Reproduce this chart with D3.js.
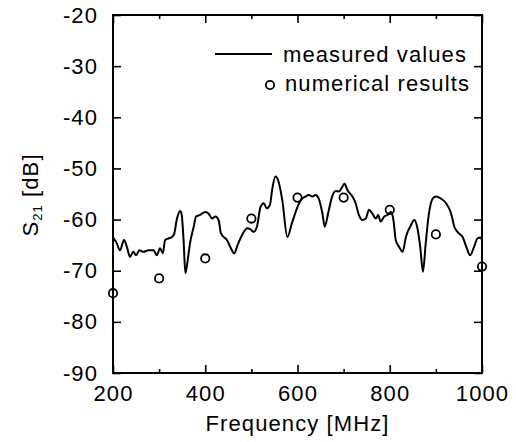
<!DOCTYPE html>
<html>
<head>
<meta charset="utf-8">
<script src="https://cdn.jsdelivr.net/npm/d3@7"></script>
<style>
  body { margin: 0; background: #fff; }
  svg text { font-family: "Liberation Sans", Arial, Helvetica, sans-serif; fill: #000; }
</style>
</head>
<body>
<div id="chart"></div>
<script>
// measured S21 trace
const measFreq = [200, 208, 215, 224, 230, 237, 244, 250, 257, 266, 277, 288, 295, 302, 308, 313, 320, 328, 333, 338,
  346, 349, 353, 357, 362, 367, 375, 380, 389, 400, 407, 415, 422, 429, 434, 440, 447, 454, 463, 470,
  480, 491, 498, 505, 512, 520, 527, 533, 540, 545, 552, 559, 567, 578, 588, 598, 607, 617, 625, 632,
  639, 646, 654, 659, 667, 675, 683, 690, 697, 702, 708, 719, 726, 733, 741, 748, 755, 762, 770, 775,
  780, 788, 795, 802, 808, 813, 820, 828, 835, 846, 853, 860, 866, 872, 878, 885, 893, 900, 911, 922,
  933, 940, 950, 958, 967, 974, 983, 990, 997, 1000];
const measS21 = [-63.5, -64.6, -66.0, -64.0, -65.3, -67.3, -66.3, -67.0, -66.0, -66.3, -66.0, -66.0, -67.0, -65.6, -66.6, -64.0, -63.7, -63.4, -62.7, -60.1,
  -58.3, -59.1, -64.0, -70.5, -67.9, -64.6, -61.4, -59.4, -59.1, -58.5, -58.8, -59.8, -59.4, -60.1, -62.7, -63.4, -64.0, -65.3, -66.6, -65.0,
  -63.0, -61.7, -61.9, -62.4, -61.4, -57.5, -56.8, -57.8, -57.2, -54.2, -51.6, -52.6, -56.2, -63.4, -60.7, -58.0, -56.2, -55.5, -55.2, -55.5,
  -55.2, -55.9, -58.8, -61.4, -58.5, -55.5, -54.4, -54.5, -53.6, -53.0, -54.2, -55.5, -56.8, -59.1, -60.1, -59.8, -58.1, -58.8, -59.8, -59.1,
  -60.4, -59.4, -59.1, -58.5, -60.1, -64.0, -65.3, -66.3, -63.4, -61.1, -60.1, -61.7, -65.3, -70.2, -64.6, -58.8, -55.9, -55.5, -55.9, -56.8,
  -58.8, -61.4, -62.7, -63.4, -65.6, -67.0, -65.3, -63.7, -63.5, -64.0];

// numerical results (circles)
const numFreq = [200, 300, 400, 500, 600, 700, 800, 900, 1000];
const numS21 = [-74.4, -71.5, -67.6, -59.8, -55.7, -55.7, -58.1, -62.9, -69.2];

const xMajor = [200, 400, 600, 800, 1000];
const xMinor = [300, 500, 700, 900];
const yTicks = [-20, -30, -40, -50, -60, -70, -80, -90];

const margin = { top: 15, right: 34, bottom: 69, left: 113 };
const width = 516 - margin.left - margin.right;
const height = 442 - margin.top - margin.bottom;

const svg = d3.select("#chart").append("svg")
  .attr("width", 516)
  .attr("height", 442);

const g = svg.append("g")
  .attr("transform", `translate(${margin.left},${margin.top})`);

const x = d3.scaleLinear().domain([200, 1000]).range([0, width]);
const y = d3.scaleLinear().domain([-90, -20]).range([height, 0]);

const fontSize = "22px";
const spacing = "1.1px";
const plain = d => String(d); // keep the ASCII hyphen like the original

// axes, ticks drawn inward
const axisStyle = sel => {
  sel.select(".domain").remove();
  sel.selectAll("line").attr("stroke", "#000").attr("stroke-width", 1.6);
  sel.selectAll("text").style("font-size", fontSize).style("letter-spacing", spacing);
};

g.append("g").attr("transform", `translate(0,${height})`)
  .call(d3.axisBottom(x).tickValues(xMajor).tickSize(-8).tickPadding(12).tickFormat(plain))
  .call(axisStyle);
g.append("g").attr("transform", `translate(0,${height})`)
  .call(d3.axisBottom(x).tickValues(xMinor).tickSize(-4).tickFormat(""))
  .call(axisStyle);
g.append("g")
  .call(d3.axisTop(x).tickValues(xMajor).tickSize(-8).tickFormat(""))
  .call(axisStyle);
g.append("g")
  .call(d3.axisTop(x).tickValues(xMinor).tickSize(-4).tickFormat(""))
  .call(axisStyle);
g.append("g")
  .call(d3.axisLeft(y).tickValues(yTicks).tickSize(-8).tickPadding(15).tickFormat(plain))
  .call(axisStyle);
g.append("g").attr("transform", `translate(${width},0)`)
  .call(d3.axisRight(y).tickValues(yTicks).tickSize(-8).tickFormat(""))
  .call(axisStyle);

// frame
g.append("rect")
  .attr("width", width).attr("height", height)
  .attr("fill", "none").attr("stroke", "#000").attr("stroke-width", 2);

// measured line
const meas = measFreq.map((f, i) => ({ f: f, v: measS21[i] }));
const line = d3.line()
  .x(d => x(d.f))
  .y(d => y(d.v))
  .curve(d3.curveMonotoneX);

g.append("path")
  .datum(meas)
  .attr("d", line)
  .attr("fill", "none")
  .attr("stroke", "#000")
  .attr("stroke-width", 2)
  .attr("stroke-linejoin", "round");

// numerical circles
g.selectAll(".dot")
  .data(numFreq.map((f, i) => ({ f: f, v: numS21[i] })))
  .join("circle")
  .attr("class", "dot")
  .attr("cx", d => x(d.f))
  .attr("cy", d => y(d.v))
  .attr("r", 4.2)
  .attr("fill", "none")
  .attr("stroke", "#000")
  .attr("stroke-width", 1.8);

// legend
const legend = svg.append("g");
legend.append("line")
  .attr("x1", 215).attr("x2", 272).attr("y1", 54).attr("y2", 54)
  .attr("stroke", "#000").attr("stroke-width", 2);
legend.append("text")
  .attr("x", 283).attr("y", 62)
  .style("font-size", fontSize).style("letter-spacing", spacing)
  .text("measured values");
legend.append("circle")
  .attr("cx", 270).attr("cy", 85).attr("r", 4.2)
  .attr("fill", "none").attr("stroke", "#000").attr("stroke-width", 1.8);
legend.append("text")
  .attr("x", 285).attr("y", 91)
  .style("font-size", fontSize).style("letter-spacing", spacing)
  .text("numerical results");

// axis titles
svg.append("text")
  .attr("x", margin.left + width / 2).attr("y", 431)
  .attr("text-anchor", "middle")
  .style("font-size", fontSize).style("letter-spacing", spacing)
  .text("Frequency [MHz]");

const yTitle = svg.append("text")
  .attr("transform", "translate(38,195) rotate(-90)")
  .attr("text-anchor", "middle")
  .style("font-size", fontSize).style("letter-spacing", spacing);
yTitle.append("tspan").text("S");
yTitle.append("tspan").attr("dy", 4).style("font-size", "13px").text("21");
yTitle.append("tspan").attr("dy", -4).text(" [dB]");
</script>
</body>
</html>
